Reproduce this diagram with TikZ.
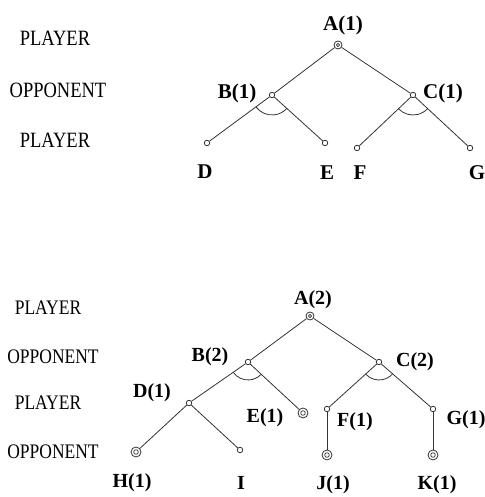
\documentclass[tikz,border=0pt]{standalone}
\usepackage{fontspec}
\setmainfont{Liberation Serif}
\usetikzlibrary{calc}
\newcommand\andarc[4]{%
  \draw[conn] let \p1=($(#2)-(#1)$), \p2=($(#3)-(#1)$),
    \n1={atan2(\y1,\x1)}, \n2={atan2(\y2,\x2)} in
    ($(#1)+(\n1:#4)$) arc[start angle=\n1, end angle=\n2, radius=#4];}
\newcommand\rolestretch[1]{\scalebox{1}[1.18]{#1}}
\begin{document}
\begin{tikzpicture}[x=1pt,y=1pt,
  conn/.style={draw=black!80,line width=0.8pt},
  sm/.style={circle,draw=black!80,fill=white,inner sep=0pt,minimum size=5.5pt,line width=0.8pt},
  dbl/.style={circle,draw=black!80,fill=white,inner sep=0pt,minimum size=10pt,line width=0.8pt,
    path picture={\draw[black!80,line width=0.7pt] (path picture bounding box.center) circle (2.3pt);}},
  dbls/.style={circle,draw=black!80,fill=white,inner sep=0pt,minimum size=8pt,line width=0.8pt,
    path picture={\draw[black!80,line width=0.6pt] (path picture bounding box.center) circle (1.6pt);}},
  toplab/.style={inner sep=0pt,font=\fontsize{21}{24}\selectfont\bfseries},
  botlab/.style={inner sep=0pt,font=\fontsize{20}{22}\selectfont\bfseries},
  toprole/.style={inner sep=0pt,font=\fontsize{18.5}{20}\selectfont},
  botrole/.style={inner sep=0pt,font=\fontsize{17.5}{19}\selectfont}]
\useasboundingbox (0,0) rectangle (484,497);
% ---------- top tree ----------
\node[toprole] (r1) at (55,459) {\rolestretch{PLAYER}};
\node[toprole] (r2) at (58,407) {\rolestretch{OPPONENT}};
\node[toprole] (r3) at (55,357) {\rolestretch{PLAYER}};
\node[dbls] (tA) at (338,452) {};
\node[sm] (tB) at (272,402) {};
\node[sm] (tC) at (413,402) {};
\node[sm] (tD) at (207,354) {};
\node[sm] (tE) at (325,354) {};
\node[sm] (tF) at (357,349) {};
\node[sm] (tG) at (470,349) {};
\draw[conn] (tA) -- (tB);
\draw[conn] (tA) -- (tC);
\draw[conn] (tB) -- (tD);
\draw[conn] (tB) -- (tE);
\draw[conn] (tC) -- (tF);
\draw[conn] (tC) -- (tG);
\andarc{tB}{tD}{tE}{20}
\andarc{tC}{tF}{tG}{20}
\node[toplab] (ltA) at (343,472) {A(1)};
\node[toplab] (ltB) at (237,404) {B(1)};
\node[toplab] (ltC) at (443,404) {C(1)};
\node[toplab] (ltD) at (205,325) {D};
\node[toplab] (ltE) at (327,324) {E};
\node[toplab] (ltF) at (360,324) {F};
\node[toplab] (ltG) at (477,324) {G};
% ---------- bottom tree ----------
\node[botrole] (s1) at (48,189) {\rolestretch{PLAYER}};
\node[botrole] (s2) at (53,140) {\rolestretch{OPPONENT}};
\node[botrole] (s3) at (48,94) {\rolestretch{PLAYER}};
\node[botrole] (s4) at (53,45) {\rolestretch{OPPONENT}};
\node[dbls] (bA) at (310,181) {};
\node[sm] (bB) at (248,135) {};
\node[sm] (bC) at (379,135) {};
\node[sm] (bD) at (189,94) {};
\node[dbl] (bE) at (303,84) {};
\node[sm] (bF) at (327,88) {};
\node[sm] (bG) at (433,88) {};
\node[dbl] (bH) at (136,45) {};
\node[sm] (bI) at (240,47) {};
\node[dbl] (bJ) at (327,42) {};
\node[dbl] (bK) at (433,42) {};
\draw[conn] (bA) -- (bB);
\draw[conn] (bA) -- (bC);
\draw[conn] (bB) -- (bD);
\draw[conn] (bB) -- (bE);
\draw[conn] (bC) -- (bF);
\draw[conn] (bC) -- (bG);
\draw[conn] (bD) -- (bH);
\draw[conn] (bD) -- (bI);
\draw[conn] (bF) -- (bJ);
\draw[conn] (bG) -- (bK);
\andarc{bB}{bD}{bE}{18}
\andarc{bC}{bF}{bG}{18}
\node[botlab] (lbA) at (313,197) {A(2)};
\node[botlab] (lbB) at (210,140) {B(2)};
\node[botlab] (lbC) at (415,135) {C(2)};
\node[botlab] (lbD) at (152,104) {D(1)};
\node[botlab] (lbE) at (265,79) {E(1)};
\node[botlab] (lbF) at (355,75) {F(1)};
\node[botlab] (lbG) at (466,77) {G(1)};
\node[botlab] (lbH) at (132,14) {H(1)};
\node[botlab] (lbI) at (241,14) {I};
\node[botlab] (lbJ) at (333,12) {J(1)};
\node[botlab] (lbK) at (437,12) {K(1)};
\end{tikzpicture}
\end{document}
